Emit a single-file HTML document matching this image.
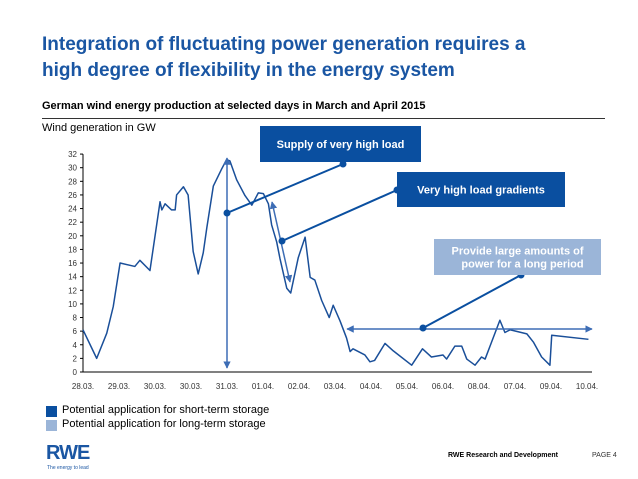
<!DOCTYPE html>
<html><head><meta charset="utf-8"><style>
body{margin:0;width:638px;height:479px;background:#fff;font-family:"Liberation Sans",sans-serif;overflow:hidden;position:relative}
.t{position:absolute;white-space:nowrap}
</style></head><body>
<div class="t" style="left:42px;top:32px;font-size:19px;font-weight:bold;color:#1a56a3;line-height:26px">Integration of fluctuating power generation requires a<br>high degree of flexibility in the energy system</div>
<div class="t" style="left:42px;top:100px;font-size:11px;font-weight:bold;color:#000">German wind energy production at selected days in March and April 2015</div>
<div style="position:absolute;left:42px;top:118px;width:563px;height:1px;background:#333"></div>
<div class="t" style="left:42px;top:122px;font-size:11px;color:#000">Wind generation in GW</div>
<svg id="chart" width="638" height="479" style="position:absolute;left:0;top:0"></svg>
<div style="position:absolute;left:46px;top:406px;width:11px;height:11px;background:#0a4fa0"></div>
<div class="t" style="left:62px;top:404px;font-size:11px">Potential application for short-term storage</div>
<div style="position:absolute;left:46px;top:420px;width:11px;height:11px;background:#9bb5d8"></div>
<div class="t" style="left:62px;top:418px;font-size:11px">Potential application for long-term storage</div>
<div class="t" style="left:46px;top:442px;font-size:20px;font-weight:bold;color:#1a56a3;letter-spacing:-1px">RWE</div>
<div class="t" style="left:47px;top:465px;font-size:5px;color:#1a56a3">The energy to lead</div>
<div class="t" style="left:448px;top:452px;font-size:7px;font-weight:bold">RWE Research and Development</div>
<div class="t" style="left:592px;top:452px;font-size:7px;color:#333">PAGE 4</div>
<script>
const xLabels=["28.03.","29.03.","30.03.","30.03.","31.03.","01.04.","02.04.","03.04.","04.04.","05.04.","06.04.","08.04.","07.04.","09.04.","10.04."];
const yTicks=[0,2,4,6,8,10,12,14,16,18,20,22,24,26,28,30,32];
const tIdx=[0,0.38,0.66,0.84,1.03,1.44,1.58,1.86,2.14,2.19,2.28,2.46,2.56,2.6,2.79,2.92,3.06,3.2,3.34,3.44,3.62,3.85,3.99,4.08,4.27,4.5,4.69,4.87,5.01,5.15,5.24,5.38,5.47,5.66,5.77,5.98,6.17,6.31,6.44,6.63,6.84,6.95,7.14,7.32,7.42,7.5,7.83,7.97,8.1,8.39,8.62,9.13,9.43,9.68,10.0,10.1,10.33,10.52,10.66,10.89,11.07,11.17,11.35,11.58,11.72,11.86,12.33,12.51,12.74,12.97,13.02,14.04];
const windGW=[6.2,2.0,5.7,9.6,16.0,15.5,16.4,14.9,25.0,23.8,24.7,23.8,23.8,26.0,27.2,26,17.7,14.4,17.5,21.2,27.3,29.8,31.2,31.0,28.2,25.9,24.5,26.3,26.2,24.7,21.6,19.1,16.7,12.3,11.6,16.8,19.8,13.9,13.5,10.5,8.0,9.8,7.5,5.0,3.0,3.4,2.5,1.5,1.7,4.2,3.1,1.0,3.4,2.2,2.5,1.9,3.8,3.8,1.9,1.0,2.2,1.9,4.4,7.6,5.8,6.2,5.6,4.4,2.2,1.0,5.4,4.8];
const svg=document.getElementById('chart');const NS='http://www.w3.org/2000/svg';
const X=i=>83+i*36, Y=v=>372-v*6.81;
function mk(tag,attrs,parent){const e=document.createElementNS(NS,tag);for(const k in attrs)e.setAttribute(k,attrs[k]);(parent||svg).appendChild(e);return e;}
let ax=mk('line',{x1:83,y1:Y(0),x2:592,y2:Y(0),stroke:'#000','stroke-width':1});


let ay=mk('line',{x1:83,y1:Y(0),x2:83,y2:Y(32),stroke:'#000','stroke-width':1});


yTicks.forEach(v=>{
 mk('line',{x1:80,y1:Y(v),x2:83,y2:Y(v),stroke:'#000'});
 const t=mk('text',{x:77,y:Y(v)+3,'text-anchor':'end','font-size':8,fill:'#333','font-family':'Liberation Sans'});t.textContent=v;
 
 
});
xLabels.forEach((l,i)=>{
 const t=mk('text',{x:X(i),y:389,'text-anchor':'middle','font-size':8,fill:'#333','font-family':'Liberation Sans'});t.textContent=l;
 
 
});
const line=mk('polyline',{points:tIdx.map((t,i)=>X(t)+','+Y(windGW[i])).join(' '),fill:'none',stroke:'#1a4f99','stroke-width':1.5,'stroke-linejoin':'round'});


const ac='#3d6db5';
mk('defs',{}).innerHTML='<marker id="ah" viewBox="0 0 10 10" refX="9" refY="5" markerWidth="5" markerHeight="5" orient="auto-start-reverse"><path d="M0,0L10,5L0,10z" fill="#3d6db5"/></marker>';
[[227,158,227,368],[272,202,290,282],[347,329,592,329]].forEach((a,i)=>{
 const l=mk('line',{x1:a[0],y1:a[1],x2:a[2],y2:a[3],stroke:ac,'stroke-width':1.5,'marker-start':'url(#ah)','marker-end':'url(#ah)'});
 
 
});
[[227,213,343,164,'#0a4fa0'],[282,241,397,190,'#0a4fa0'],[423,328,521,275,'#0a4fa0']].forEach(c=>{
 const l=mk('line',{x1:c[0],y1:c[1],x2:c[2],y2:c[3],stroke:c[4],'stroke-width':2});
 
 
 mk('circle',{cx:c[0],cy:c[1],r:3.5,fill:c[4]});mk('circle',{cx:c[2],cy:c[3],r:3.5,fill:c[4]});
});
function box(x,y,w,h,fill,lines,name,offs){
 const r=mk('rect',{x:x,y:y,width:w,height:h,fill:fill});
 
 
 lines.forEach((s,i)=>{const t=mk('text',{x:x+w/2+(offs?offs[i]:0),y:y+h/2+4+(i-(lines.length-1)/2)*13,'text-anchor':'middle','font-size':11,'font-weight':'bold',fill:'#fff','font-family':'Liberation Sans'});t.textContent=s;});
}
box(260,126,161,36,'#0a4fa0',['Supply of very high load'],'callout-very-high-load');
box(397,172,168,35,'#0a4fa0',['Very high load gradients'],'callout-load-gradients');
box(434,239,167,36,'#9bb5d8',['Provide large amounts of','power for a long period'],'callout-long-period',[0,5]);
</script>
</body></html>
